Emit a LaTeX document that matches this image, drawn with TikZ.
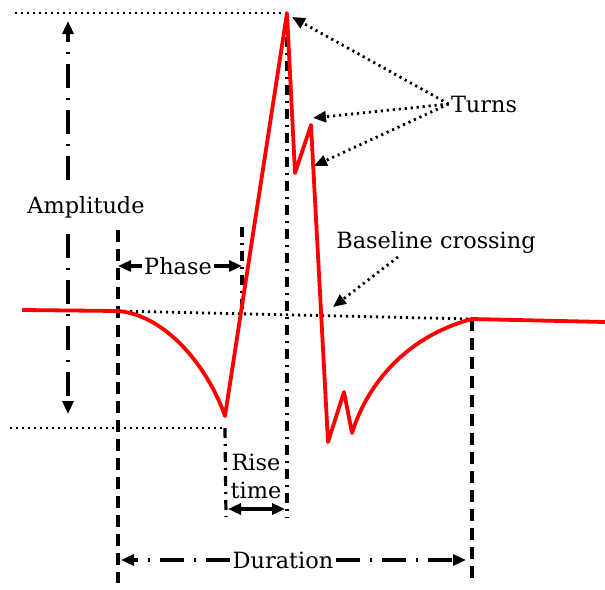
\documentclass[tikz,border=0pt]{standalone}
\usepackage{fontspec}
\setmainfont{DejaVu Serif}
\usetikzlibrary{arrows.meta,calc,positioning}

\begin{document}
\begin{tikzpicture}[x=0.5pt,y=-0.5pt,>={Triangle[length=6.5pt,width=5.5pt]},
  font=\fontsize{11.2}{14}\selectfont,
  signal/.style={red,line width=1.9pt,line join=round},
  dotline/.style={line width=1.4pt,dash pattern=on 1.1pt off 1.9pt},
  dashline/.style={line width=1.6pt,dash pattern=on 6pt off 3.5pt},
  tickline/.style={line width=1.6pt,dash pattern=on 5pt off 3pt on 1pt off 3pt},
  dimline/.style={line width=1.6pt,dash pattern=on 12pt off 5pt on 1pt off 5pt},
  lbl/.style={inner sep=1pt}]
  \useasboundingbox (0,0) rectangle (605,589);

  % Key points of the potential, in pixels of the figure.
  \coordinate (start)  at (22,310);
  \coordinate (onset)  at (118,311);
  \coordinate (trough) at (225,416);
  \coordinate (peak)   at (287,13);
  \coordinate (notch)  at (295,173);
  \coordinate (turnB)  at (311,125);
  \coordinate (dipA)   at (328,442);
  \coordinate (turnC)  at (344,392);
  \coordinate (dipB)   at (352,433);
  \coordinate (offset) at (472,319);
  \coordinate (finish) at (605,322);

  % Reference levels.
  \draw[dotline] (15,13) -- (peak);
  \draw[dotline] (10,428) coordinate (lowL) -- (lowL -| trough) coordinate (lowR);
  \draw[dotline] (onset) -- (offset);

  % Vertical markers.
  \draw[dashline] (118,230) -- (118,583) coordinate (durL);
  \draw[dashline] (offset) -- (472,585) coordinate (durR);
  \draw[tickline] (242,227) coordinate (phR) -- (242,312);
  \draw[tickline] (peak) -- (287,518) coordinate (riseR);
  \draw[tickline] (lowR) -- (226,517) coordinate (riseL);

  % Signal.
  \draw[signal] (start) -- (onset)
    .. controls (165,315) and (207,365) .. (trough)
    -- (peak) -- (notch) -- (turnB) -- (dipA) -- (turnC) -- (dipB)
    .. controls (368,382) and (408,336) .. (offset) -- (finish);

  % Amplitude.
  \coordinate (ampTop) at (68,21);
  \coordinate (ampBot) at (68,414);
  \node[lbl,outer sep=7pt] (amp) at (86,207) {Amplitude};
  \draw[dimline,->] (amp.north -| ampTop) -- (ampTop);
  \draw[dimline,->] (amp.south -| ampBot) -- (ampBot);

  % Phase.
  \node[lbl] (phase) at (178,266) {Phase};
  \draw[->,line width=1.6pt] (phase.west) -- (phase.west -| onset);
  \draw[->,line width=1.6pt] (phase.east) -- (phase.east -| phR);

  % Rise time.
  \node[lbl,align=center] (rise) at (256,476) {Rise\\time};
  \draw[<->,line width=1.6pt] (228,509) coordinate (rtL) -- (285,509) coordinate (rtR);

  % Duration.
  \node[lbl] (dur) at (283,560) {Duration};
  \draw[dimline,->] (dur.west) -- (dur.west -| 121,0);
  \draw[dimline,->] (dur.east) -- (dur.east -| 466,0);

  % Turns.
  \node[lbl] (turns) at (484,104) {Turns};
  \coordinate (tA) at (292,17);
  \coordinate (tB) at (313,118);
  \coordinate (tC) at (314,166);
  \foreach \t in {tA,tB,tC}
    \draw[dotline,->] (turns.west) -- (\t);

  % Baseline crossing.
  \node[lbl] (cross) at (436,242) {Baseline crossing};
  \coordinate (crossTip) at (333,307);
  \draw[dotline,->] (398,257) -- (crossTip);
\end{tikzpicture}
\end{document}
